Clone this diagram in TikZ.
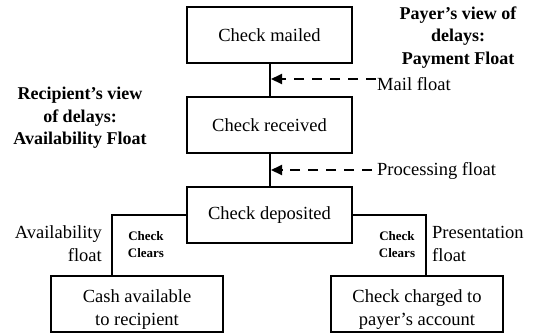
\documentclass[tikz,border=0pt]{standalone}
\usepackage{fontspec}
\setmainfont{Liberation Serif}
\usetikzlibrary{arrows.meta}
\begin{document}
\begin{tikzpicture}[x=1pt,y=-1pt,
  box/.style={draw,line width=2pt,minimum width=165pt,minimum height=56pt,inner sep=0pt,align=center,font=\fontsize{18.5}{23}\selectfont},
  lowbox/.style={box,minimum width=172pt,text height=46pt},
  lbl/.style={inner sep=0pt,font=\fontsize{18.5}{23}\selectfont},
  blbl/.style={inner sep=0pt,align=center,font=\bfseries\fontsize{18}{22.5}\selectfont},
  clr/.style={inner sep=0pt,align=center,font=\bfseries\fontsize{13}{17}\selectfont},
  conn/.style={line width=2pt},
  floatarrow/.style={line width=2pt,dash pattern=on 10pt off 8pt,-{Triangle[length=11pt,width=10pt]}}]
\useasboundingbox (0,0) rectangle (535,333);
\node[box] (mailed) at (269.5,35) {Check mailed};
\node[box] (received) at (269.5,125) {Check received};
\node[box] (dep) at (269.5,215) {Check deposited};
\node[lowbox] (cash) at (137,304) {Cash available\\to recipient};
\node[lowbox] (chg) at (417,304) {Check charged to\\payer’s account};
\draw[conn] (mailed) -- (received);
\draw[conn] (received) -- (dep);
\draw[conn] (dep.west) -| ([xshift=62pt]cash.north west);
\draw[conn] (dep.east) -| ([xshift=96pt]chg.north west);
\coordinate (mfs) at (376,79);
\coordinate (mfe) at (271,79);
\draw[floatarrow] (mfs) -- (mfe);
\coordinate (pfs) at (372,170);
\coordinate (pfe) at (271,170);
\draw[floatarrow] (pfs) -- (pfe);
\node[lbl,anchor=west] (mftxt) at (377,84) {Mail float};
\node[lbl,anchor=west] (pftxt) at (377,171) {Processing float};
\node[blbl] (payer) at (458,37.5) {Payer’s view of\\delays:\\Payment Float};
\node[blbl] (recip) at (80,118) {Recipient’s view\\of delays:\\Availability Float};
\node[lbl,align=right,anchor=east] (avail) at (102,244) {Availability\\float};
\node[lbl,align=left,anchor=west] (pres) at (432,244) {Presentation\\float};
\node[clr] (clrl) at (146,244.5) {Check\\Clears};
\node[clr] (clrr) at (397,244.5) {Check\\Clears};
\end{tikzpicture}
\end{document}
